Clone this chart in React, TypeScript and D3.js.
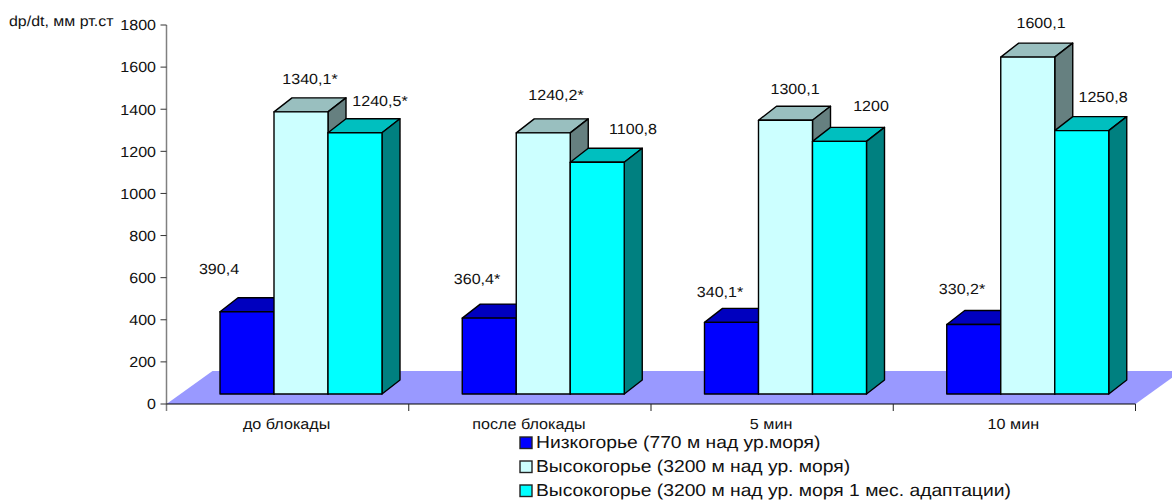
import React from "react";
import * as d3 from "d3";

const categories = ["до блокады", "после блокады", "5 мин", "10 мин"];
const seriesNames = [
  "Низкогорье (770 м над ур.моря)",
  "Высокогорье (3200 м над ур. моря)",
  "Высокогорье (3200 м над ур. моря 1 мес. адаптации)",
];
const lowland = [390.4, 360.4, 340.1, 330.2];
const highland = [1340.1, 1240.2, 1300.1, 1600.1];
const adapted = [1240.5, 1100.8, 1200, 1250.8];
const lowlandLabels = ["390,4", "360,4*", "340,1*", "330,2*"];
const highlandLabels = ["1340,1*", "1240,2*", "1300,1", "1600,1"];
const adaptedLabels = ["1240,5*", "1100,8", "1200", "1250,8"];
const yTicks = [0, 200, 400, 600, 800, 1000, 1200, 1400, 1600, 1800];

const values = [lowland, highland, adapted];
const labels = [lowlandLabels, highlandLabels, adaptedLabels];
const faces = [
  { front: "#0000ff", top: "#0000bf", side: "#000080" },
  { front: "#ccffff", top: "#99bfbf", side: "#668080" },
  { front: "#00ffff", top: "#00bfbf", side: "#008080" },
];
// hand-placed label anchors in the source chart: centre x / centre y
const labelPos = [
  [[219, 269], [477, 279], [720, 292], [962, 289]],
  [[310, 79], [556, 95], [795, 89], [1041, 23]],
  [[380, 101], [633, 129], [871, 106], [1103, 97]],
];

const FONT = "'Liberation Sans', Arial, sans-serif";
const xLeft = 166.5;
const xRight = 1135.5;
const yBase = 404;
const yTop = 25;
const floorDx = 46;
const floorDy = 33;
const baseShift = 10;
const barW = 54;
const depthX = 18;
const depthY = 14;
const groupPad = 53.5;

// the source picture is stretched horizontally, so its glyphs are wider than they are tall
function Stretched({ x, y, size, sx = 1.1, anchor = "start", children }: any) {
  return (
    <text
      transform={`translate(${x},${y}) scale(${sx},1)`}
      textAnchor={anchor}
      fontSize={size}
      fill="#111"
    >
      {children}
    </text>
  );
}

export default function App() {
  const y = d3.scaleLinear().domain([0, 1800]).range([yBase, yTop]);
  const x = d3.scaleBand<number>().domain(d3.range(categories.length)).range([xLeft, xRight]);
  const line = d3.line();
  const closed = (p: [number, number][]) => line(p) + "Z";
  const bw = x.bandwidth();

  return (
    <svg
      width={1172}
      height={500}
      style={{ position: "absolute", left: 0, top: 0, background: "#fff", fontFamily: FONT, textRendering: "geometricPrecision" }}
    >
      <path
        d={closed([
          [xLeft, yBase],
          [xRight, yBase],
          [xRight + floorDx, yBase - floorDy],
          [xLeft + floorDx, yBase - floorDy],
        ])}
        fill="#9999ff"
      />
      {categories.map((_, c) =>
        values.map((vals, s) => {
          const x0 = (x(c) as number) + groupPad + s * barW;
          const x1 = x0 + barW;
          const top = y(vals[c]) - baseShift;
          const bot = yBase - baseShift;
          const f = faces[s];
          return (
            <g key={`${c}-${s}`} stroke="#000" strokeWidth={1.4} strokeLinejoin="round">
              <path
                d={closed([[x0, top], [x1, top], [x1 + depthX, top - depthY], [x0 + depthX, top - depthY]])}
                fill={f.top}
              />
              <path
                d={closed([[x1, top], [x1 + depthX, top - depthY], [x1 + depthX, bot - depthY], [x1, bot]])}
                fill={f.side}
              />
              <rect x={x0} y={top} width={barW} height={bot - top} fill={f.front} />
            </g>
          );
        })
      )}
      <line x1={xLeft} x2={xLeft} y1={yTop} y2={yBase + 7} stroke="#808080" strokeWidth={1.5} />
      <line x1={xLeft} x2={xRight} y1={yBase} y2={yBase} stroke="#000" strokeWidth={1} />
      {yTicks.map((t) => (
        <g key={t}>
          <line x1={xLeft - 6} x2={xLeft} y1={y(t)} y2={y(t)} stroke="#333" strokeWidth={1} />
          <Stretched x={156} y={y(t) + 5.3} size={14.6} anchor="end">
            {t}
          </Stretched>
        </g>
      ))}
      {categories.map((c, i) => (
        <g key={c}>
          <line
            x1={(x(i) as number) + bw}
            x2={(x(i) as number) + bw}
            y1={yBase}
            y2={yBase + 7}
            stroke="#222"
            strokeWidth={1}
          />
          <Stretched x={(x(i) as number) + bw / 2 - 1} y={429} size={14.7} anchor="middle">
            {c}
          </Stretched>
        </g>
      ))}
      <Stretched x={9} y={26} size={14.5}>
        dp/dt, мм рт.ст
      </Stretched>
      {labels.map((row, s) =>
        row.map((l, c) => (
          <Stretched key={`${s}-${c}`} x={labelPos[s][c][0]} y={labelPos[s][c][1] + 5.3} size={14.6} anchor="middle">
            {l}
          </Stretched>
        ))
      )}
      {seriesNames.map((n, i) => (
        <g key={n}>
          <rect
            x={520}
            y={437 + i * 24}
            width={12}
            height={11.5}
            fill={faces[i].front}
            stroke="#222"
            strokeWidth={1.4}
          />
          <Stretched x={536} y={448.3 + i * 24} size={17.3} sx={1.115}>
            {n}
          </Stretched>
        </g>
      ))}
    </svg>
  );
}
